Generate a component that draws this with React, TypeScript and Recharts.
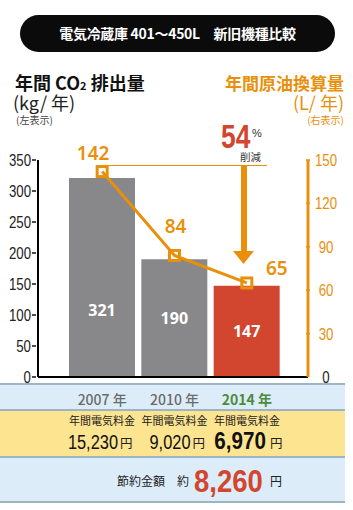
import React from "react";
import { Bar, Cell, ComposedChart, LabelList, Line, XAxis, YAxis } from "recharts";

const years = ["2007 年", "2010 年", "2014 年"];
const co2 = [321, 190, 147];
const oil = [142, 84, 65];
const fees = ["15,230", "9,020", "6,970"];
const saving = "8,260";
const reduction = 54;
const leftTicks = [0, 50, 100, 150, 200, 250, 300, 350];
const rightTicks = [0, 30, 60, 90, 120, 150];

const data = years.map((y, i) => ({ year: y, co2: co2[i], oil: oil[i] }));

const ORANGE = "#e8900c";
const RED = "#d2462f";
const GRAY = "#88888b";
const GREEN = "#4d8b3c";
const JP = '"Noto Sans CJK JP", "Noto Sans", sans-serif';
const SANS = '"Liberation Sans", Arial, sans-serif';

const barColors = [GRAY, GRAY, RED];
// where each oil value label sits relative to its marker
const oilLabelShift = [
  { dx: -9, dy: -19 },
  { dx: 1, dy: -29 },
  { dx: 30, dy: -15 },
];

// condensed text: the original uses a narrow face we don't have
function Narrow({ x, y, anchor = "start", size, sx = 0.8, fill, weight = 400, children }: any) {
  return (
    <g transform={`translate(${x},${y}) scale(${sx},1)`}>
      <text x={0} y={0} textAnchor={anchor} fontFamily={SANS} fontSize={size} fontWeight={weight} fill={fill}>
        {children}
      </text>
    </g>
  );
}

function LeftTick({ x, y, payload }: any) {
  return (
    <g>
      <line x1={x - 4} x2={x} y1={y} y2={y} stroke="#111" strokeWidth={1.5} />
      <Narrow x={x - 5} y={y + 6} anchor="end" size={17} sx={0.78} fill="#222">
        {payload.value}
      </Narrow>
    </g>
  );
}

function RightTick({ x, y, payload }: any) {
  return (
    <g>
      {payload.value !== 0 && <line x1={x - 4} x2={x} y1={y} y2={y} stroke={ORANGE} strokeWidth={1.5} />}
      <Narrow x={x + 16} y={y + 6} anchor="middle" size={17} sx={0.78} fill={payload.value === 0 ? "#222" : ORANGE}>
        {payload.value}
      </Narrow>
    </g>
  );
}

function YearTick({ x, y, payload, index }: any) {
  const last = index === years.length - 1;
  return (
    <text x={x} y={y + 26} textAnchor="middle" fontFamily={JP} fontWeight={last ? 700 : 500} fontSize={14} fill={last ? GREEN : "#6b6b6b"}>
      {payload.value}
    </text>
  );
}

function BarValue({ x, y, width, height, value }: any) {
  const cy = Math.max(y + height / 2, y + height - 67);
  return (
    <text x={x + width / 2} y={cy + 6} textAnchor="middle" fontFamily='"Noto Sans", sans-serif' fontWeight={700} fontSize={16} fill="#fff">
      {value}
    </text>
  );
}

function OilValue({ x, y, value, index }: any) {
  const s = oilLabelShift[index] || { dx: 0, dy: -18 };
  return (
    <text x={x + s.dx} y={y + s.dy + 7} textAnchor="middle" fontFamily='"Noto Sans", sans-serif' fontWeight={600} fontSize={19} fill={ORANGE}>
      {value}
    </text>
  );
}

function SquareDot({ cx, cy }: any) {
  return <rect x={cx - 5} y={cy - 5} width={10} height={10} fill="none" stroke={ORANGE} strokeWidth={3} />;
}

const band = (top: number, h: number, bg: string): React.CSSProperties => ({
  position: "absolute",
  left: 0,
  top,
  width: 345,
  height: h,
  background: bg,
  borderTop: "2px solid #9bb5c5",
  boxSizing: "border-box",
});

const colCenter = (i: number) => 102 + i * 72.5;

export default function App() {
  return (
    <div style={{ position: "absolute", left: 0, top: 0, width: 353, height: 510, background: "#fff", fontFamily: JP, overflow: "hidden" }}>
      {/* title pill */}
      <div style={{ position: "absolute", left: 20, top: 15, width: 315, height: 37, borderRadius: 19, background: "#0b0b0b", color: "#fff", fontWeight: 700, fontSize: 14, lineHeight: "37px", textAlign: "center", letterSpacing: -0.3 }}>
        電気冷蔵庫 401～450L　新旧機種比較
      </div>

      {/* bands under the chart */}
      <div style={band(383, 28, "#dcedf9")} />
      <div style={band(409, 48, "#fde491")} />
      <div style={band(456, 47, "#dcedf9")} />
      <div style={{ position: "absolute", left: 0, top: 501, width: 345, height: 2, background: "#9bb5c5" }} />

      {/* chart */}
      <div style={{ position: "absolute", left: 0, top: 0 }}>
        <ComposedChart width={353} height={410} data={data} margin={{ top: 160, right: 0, left: 0, bottom: 3 }} barSize={66}>
          <XAxis
            dataKey="year"
            height={30}
            padding={{ left: 28, right: 25 }}
            axisLine={{ stroke: "#000", strokeWidth: 2 }}
            tickLine={false}
            tickSize={0}
            tick={<YearTick />}
            interval={0}
          />
          <YAxis
            yAxisId="left"
            width={38}
            domain={[0, 350]}
            ticks={leftTicks}
            interval={0}
            axisLine={{ stroke: "#000", strokeWidth: 2 }}
            tickLine={false}
            tickSize={0}
            tick={<LeftTick />}
          />
          <YAxis
            yAxisId="right"
            orientation="right"
            width={45}
            domain={[0, 150]}
            ticks={rightTicks}
            interval={0}
            axisLine={{ stroke: ORANGE, strokeWidth: 3 }}
            tickLine={false}
            tickSize={0}
            tick={<RightTick />}
          />
          <Bar yAxisId="left" dataKey="co2" isAnimationActive={false}>
            {data.map((_, i) => (
              <Cell key={i} fill={barColors[i]} />
            ))}
            <LabelList dataKey="co2" content={<BarValue />} />
          </Bar>
          <Line
            yAxisId="right"
            dataKey="oil"
            type="linear"
            stroke={ORANGE}
            strokeWidth={3}
            dot={<SquareDot />}
            activeDot={false}
            isAnimationActive={false}
          >
            <LabelList dataKey="oil" content={<OilValue />} />
          </Line>
        </ComposedChart>
      </div>

      {/* titles, annotation, money texts */}
      <svg width={353} height={510} style={{ position: "absolute", left: 0, top: 0, pointerEvents: "none" }}>
        <text x={15} y={90} fontFamily={JP} fontWeight={700} fontSize={18} fill="#111">
          年間 CO<tspan fontSize={11}>2</tspan> 排出量
        </text>
        <text x={13} y={110} fontFamily={JP} fontSize={18} fill="#222">(kg/ 年)</text>
        <text x={16} y={124} fontFamily={JP} fontSize={10} fill="#444">(左表示)</text>

        <text x={344} y={90} textAnchor="end" fontFamily={JP} fontWeight={700} fontSize={17} fill={ORANGE}>年間原油換算量</text>
        <text x={344} y={110} textAnchor="end" fontFamily={JP} fontSize={18} fill={ORANGE}>(L/ 年)</text>
        <text x={344} y={124} textAnchor="end" fontFamily={JP} fontSize={10} fill={ORANGE}>(右表示)</text>

        <line x1={98} x2={267} y1={165.5} y2={165.5} stroke={ORANGE} strokeWidth={1} />
        <rect x={241} y={166} width={6} height={86} fill={ORANGE} />
        <polygon points="233,251 254,251 243.5,264" fill={ORANGE} />
        <Narrow x={221} y={148} size={33} sx={0.8} weight={700} fill={RED}>
          {reduction}
        </Narrow>
        <text x={252} y={137} fontFamily={SANS} fontSize={11} fill="#333">%</text>
        <text x={240} y={161} fontFamily={JP} fontSize={10.5} fill="#333">削減</text>

        {fees.map((f, i) => {
          const last = i === fees.length - 1;
          const cx = colCenter(i);
          return (
            <g key={i}>
              <text x={cx} y={425} textAnchor="middle" fontFamily={JP} fontSize={11} fill="#222">年間電気料金</text>
              <Narrow x={cx + (last ? 19 : 16)} y={449} anchor="end" size={last ? 24 : 20.5} sx={last ? 0.86 : 0.8} weight={last ? 700 : 400} fill="#111">
                {f}
              </Narrow>
              <text x={cx + (last ? 23 : 18)} y={448} fontFamily={JP} fontSize={12.5} fill="#222">円</text>
            </g>
          );
        })}
        <text x={117} y={486} fontFamily={JP} fontSize={12} fill="#222">節約金額　約</text>
        <Narrow x={194} y={492} size={32} sx={0.86} weight={700} fill={RED}>
          {saving}
        </Narrow>
        <text x={270} y={486} fontFamily={JP} fontSize={12} fill="#222">円</text>
      </svg>
    </div>
  );
}
